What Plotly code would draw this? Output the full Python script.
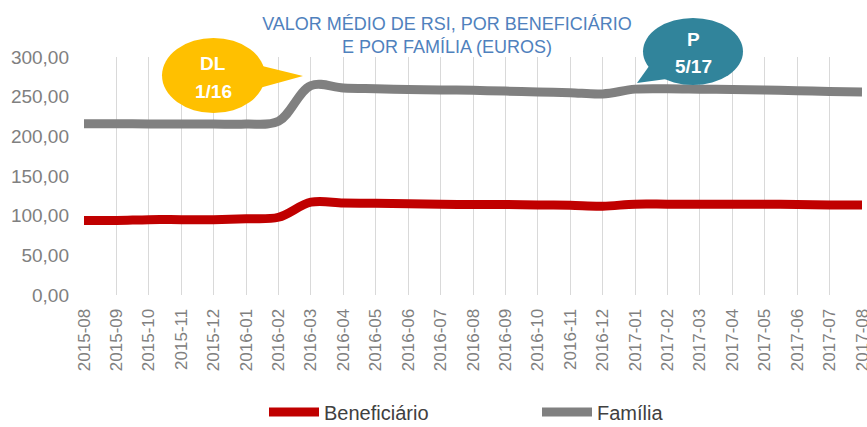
import plotly.graph_objects as go

months = ["2015-08", "2015-09", "2015-10", "2015-11", "2015-12", "2016-01", "2016-02",
          "2016-03", "2016-04", "2016-05", "2016-06", "2016-07", "2016-08", "2016-09",
          "2016-10", "2016-11", "2016-12", "2017-01", "2017-02", "2017-03", "2017-04",
          "2017-05", "2017-06", "2017-07", "2017-08"]

beneficiario = [94, 94, 95, 95, 95, 96, 98, 117, 116, 115.5, 115, 114.5, 114, 114,
                113.5, 113, 112, 114.5, 114.5, 114.5, 114.5, 114.5, 114, 113.5, 113.5]

familia = [216, 216, 215.5, 215.5, 215.5, 215.5, 219, 264, 261, 260, 259, 258.5, 258,
           257, 256, 255, 253.5, 259.5, 260, 259.5, 259, 258.5, 257.5, 256.5, 256]

y_ticks = [0, 50, 100, 150, 200, 250, 300]

W, H = 867, 427
L, R, T, B = 84, 5, 57, 132
PW, PH = W - L - R, H - T - B


def px(x):
    return (x - L) / PW


def py(y):
    return (H - B - y) / PH


fig = go.Figure()
fig.add_trace(go.Scatter(x=months, y=beneficiario, name="Beneficiário", mode="lines",
                         line=dict(color="#C00000", width=9, shape="spline", smoothing=1)))
fig.add_trace(go.Scatter(x=months, y=familia, name="Família", mode="lines",
                         line=dict(color="#808080", width=9, shape="spline", smoothing=1)))

shapes = []
# yellow callout
shapes.append(dict(type="path", xref="paper", yref="paper",
                   path=f"M {px(250)},{py(63)} L {px(303)},{py(76)} L {px(252)},{py(90)} Z",
                   fillcolor="#FFC000", line=dict(width=0)))
shapes.append(dict(type="circle", xref="paper", yref="paper",
                   x0=px(162), x1=px(265), y0=py(113), y1=py(38),
                   fillcolor="#FFC000", line=dict(width=0)))
# teal callout
shapes.append(dict(type="path", xref="paper", yref="paper",
                   path=f"M {px(652)},{py(62)} L {px(637)},{py(83)} L {px(674)},{py(78)} Z",
                   fillcolor="#31849B", line=dict(width=0)))
shapes.append(dict(type="circle", xref="paper", yref="paper",
                   x0=px(643), x1=px(743), y0=py(85), y1=py(18),
                   fillcolor="#31849B", line=dict(width=0)))

ann_font = dict(family="Liberation Sans", size=19, color="white")
annotations = [
    dict(text="<b>DL</b>", x=px(213), y=py(63), xref="paper", yref="paper",
         showarrow=False, font=ann_font, xanchor="center", yanchor="middle"),
    dict(text="<b>1/16</b>", x=px(213), y=py(91), xref="paper", yref="paper",
         showarrow=False, font=ann_font, xanchor="center", yanchor="middle"),
    dict(text="<b>P</b>", x=px(693), y=py(39), xref="paper", yref="paper",
         showarrow=False, font=ann_font, xanchor="center", yanchor="middle"),
    dict(text="<b>5/17</b>", x=px(693), y=py(66), xref="paper", yref="paper",
         showarrow=False, font=ann_font, xanchor="center", yanchor="middle"),
]

fig.update_layout(
    width=W, height=H,
    margin=dict(l=L, r=R, t=T, b=B, autoexpand=False),
    paper_bgcolor="white", plot_bgcolor="white",
    separators=",.",
    title=dict(text="VALOR MÉDIO DE RSI, POR BENEFICIÁRIO<br>E POR FAMÍLIA (EUROS)",
               x=447 / W, xanchor="center", y=1 - 30 / H, yanchor="middle",
               font=dict(family="Liberation Sans", size=18, color="#4F81BD")),
    showlegend=True,
    legend=dict(orientation="h", x=px(264), xanchor="left", y=py(412), yanchor="middle",
                font=dict(family="Liberation Sans", size=20, color="#404040"),
                itemwidth=50, entrywidth=208, entrywidthmode="pixels"),
    shapes=shapes,
    annotations=annotations,
    xaxis=dict(type="category", showgrid=True, gridcolor="#D9D9D9", gridwidth=1,
               tickangle=-90, showline=False, zeroline=False,
               ticks="outside", ticklen=6, tickcolor="rgba(0,0,0,0)",
               tickfont=dict(family="Liberation Sans", size=17, color="#808080"),
               range=[0, len(months) - 1]),
    yaxis=dict(range=[0, 300], tickvals=y_ticks, tickformat=".2f", showgrid=False,
               zeroline=False, showline=False, ticks="", ticklabelstandoff=14,
               tickfont=dict(family="Liberation Sans", size=19, color="#808080")),
)

fig.write_html("out.html")
